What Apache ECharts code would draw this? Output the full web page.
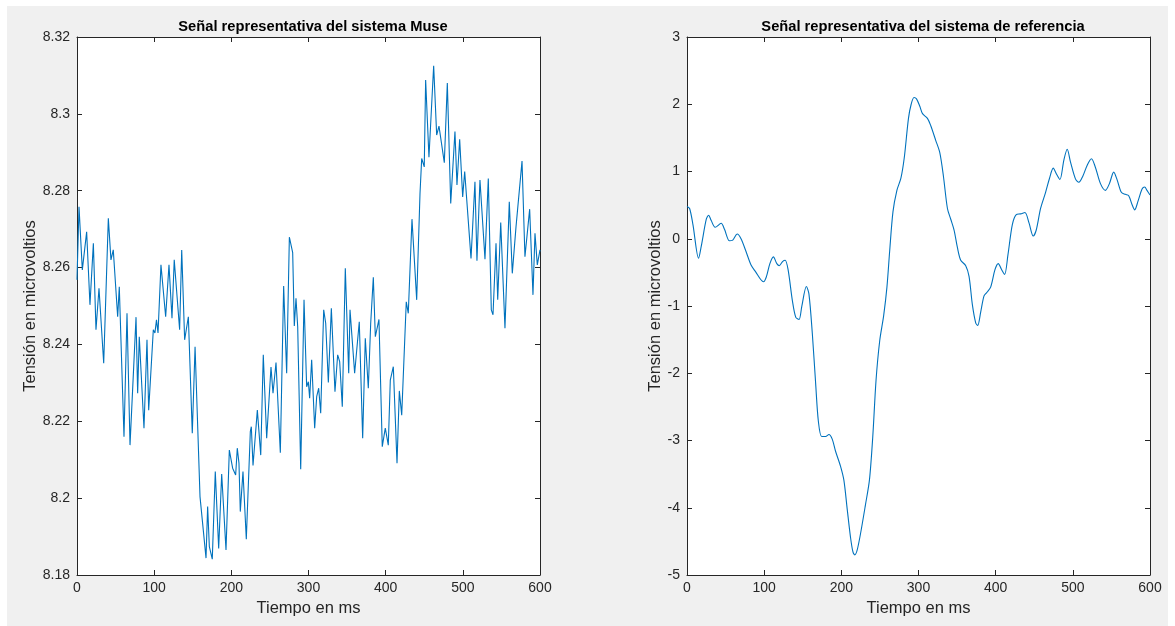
<!DOCTYPE html>
<html>
<head>
<meta charset="utf-8">
<script src="https://cdn.jsdelivr.net/npm/echarts@6/dist/echarts.min.js"></script>
<style>
  html, body { margin: 0; padding: 0; background: #fff; }
  #frame { position: absolute; left: 7px; top: 6px; width: 1161px; height: 620px; background: #f0f0f0; }
  #chart { position: absolute; left: 0; top: 0; width: 1175px; height: 626px; }
</style>
</head>
<body>
<div id="frame"></div>
<div id="chart"></div>
<script>
// Muse signal (left), vertices
var museTime = [0, 2.6, 6.9, 12.5, 16.8, 21.2, 24.6, 28.5, 34.6, 40.6, 44, 47, 52.7, 54.8, 60.9, 64.8, 68.7, 76.5, 78.6, 80.7,
  86.8, 90.7, 92.9, 98.9, 101, 103, 105, 108.8, 111, 114.9, 119.2, 123.1, 126, 133, 135.7, 139.5, 144.3, 149.4, 153, 159.4,
  161.5, 167.2, 169.3, 171.5, 175.3, 179.2, 183.6, 187.5, 193.1, 197.4, 201.7, 205.6, 207.7, 209.9, 211.6, 215.1, 219.4, 224.6, 225.9, 228.1,
  233.7, 238.1, 241.4, 245.8, 251.4, 254, 257.9, 263.5, 267.8, 271.7, 275.2, 279.5, 281.6, 283.8, 286, 289.9, 294.2, 297.6, 299.8, 301.5,
  304.1, 308, 310.6, 313.2, 315.8, 319.7, 322.3, 325.7, 329.6, 334.3, 337.8, 340.4, 343.8, 347.7, 352.1, 353.8, 359.8, 365.8, 370.2, 373.6,
  377.5, 380.6, 384, 386.6, 391.3, 395.6, 399.5, 403.4, 406, 409.9, 414.7, 417.7, 420.8, 426.7, 429.3, 434.1, 440.2, 444.5, 446.7, 450,
  451.8, 456.1, 462.2, 466.1, 469.1, 476, 479.9, 484.3, 489.8, 492.4, 495.9, 499.8, 502.4, 510.6, 515.7, 518.3, 522.2, 528.7, 533, 536.9,
  539.1, 543, 545.2, 549.1, 554.6, 560.2, 564.1, 568.9, 576.7, 580.5, 586.6, 590.9, 593.5, 596.5, 600];
var museValues = [8.2568, 8.2758, 8.2594, 8.2693, 8.2503, 8.2663, 8.2438, 8.2546, 8.2351, 8.2728, 8.262, 8.2646, 8.2472, 8.255, 8.216, 8.2481, 8.2138, 8.2471, 8.2273, 8.242,
  8.2182, 8.2412, 8.2229, 8.2438, 8.243, 8.2464, 8.243, 8.2607, 8.2604, 8.2472, 8.2607, 8.2468, 8.262, 8.2438, 8.2646, 8.2412, 8.2472, 8.2169, 8.2394, 8.2004,
  8.200, 8.1844, 8.1978, 8.1874, 8.1841, 8.2069, 8.1869, 8.2063, 8.1865, 8.2125, 8.2078, 8.206, 8.213, 8.2091, 8.1965, 8.2069, 8.1893, 8.2173, 8.2186, 8.2085,
  8.2229, 8.2112, 8.2373, 8.2156, 8.2341, 8.2273, 8.2353, 8.2118, 8.2552, 8.2325, 8.2679, 8.2639, 8.2448, 8.252, 8.2446, 8.2075, 8.2516, 8.229, 8.2303, 8.226,
  8.236, 8.2182, 8.2264, 8.2286, 8.2221, 8.249, 8.2455, 8.2301, 8.2494, 8.2277, 8.2373, 8.2355, 8.2238, 8.2598, 8.2325, 8.249, 8.2325, 8.2459, 8.2156, 8.2416,
  8.2286, 8.2455, 8.2575, 8.242, 8.2465, 8.2134, 8.2182, 8.2138, 8.2307, 8.2342, 8.2091, 8.2279, 8.2216, 8.2511, 8.2481, 8.2726, 8.2516, 8.2793, 8.2884, 8.2862,
  8.3088, 8.2887, 8.3125, 8.2945, 8.2968, 8.2873, 8.308, 8.2767, 8.2954, 8.2815, 8.2934, 8.2784, 8.285, 8.2624, 8.2823, 8.2618, 8.2828, 8.2622, 8.2832, 8.249,
  8.2477, 8.2663, 8.2516, 8.2717, 8.2442, 8.2771, 8.2585, 8.2706, 8.2877, 8.2628, 8.2752, 8.2529, 8.2689, 8.2607, 8.2646];

// reference system signal (right)
var refTime = [0, 3.4, 7.7, 15, 18.5, 25, 28, 31.4, 36.5, 44.3, 48.6, 55, 59.3, 65, 70, 76.5, 83, 89.4, 95.8, 99.3,
  103, 107.4, 112, 116.4, 119.5, 123.8, 127.2, 131, 136.7, 141, 145.2, 148.7, 154.7, 158, 162.4, 166.7, 170.2, 174.5, 179.6, 183.9,
  188.2, 192.5, 198.9, 203.3, 207.6, 211.9, 214.9, 217.4, 220.5, 224.8, 231.2, 236.4, 240.7, 245, 249.7, 254.9, 259.1, 262.6, 266.9, 272,
  277.2, 281.5, 287, 290.5, 294.2, 297.4, 301.7, 305.2, 311.6, 315.9, 322.4, 327.6, 332.3, 337.5, 341.8, 346.1, 350.4, 354.7, 361.2, 365.5,
  369.8, 374.1, 376.7, 380.6, 384.9, 388.4, 393.5, 399.1, 403.4, 407.3, 411.6, 415.9, 421.6, 426.7, 432.3, 437.9, 443.1, 448.7, 452.6, 458.2,
  464.7, 469.8, 474.6, 478.9, 483.2, 488.4, 492.7, 497, 503.4, 507.8, 512.9, 518.5, 524.1, 529.3, 535.8, 542.2, 547.4, 553, 557.3, 562.9,
  568.1, 572.4, 576.7, 580.2, 584.5, 589.7, 593.1, 596.1, 600];
var refValues = [0.48, 0.45, 0.21, -0.29, -0.11, 0.29, 0.35, 0.27, 0.17, 0.23, 0.14, -0.03, -0.02, 0.07, 0, -0.19, -0.39, -0.5, -0.61, -0.64,
  -0.56, -0.37, -0.27, -0.37, -0.40, -0.34, -0.32, -0.46, -0.93, -1.17, -1.2, -1.01, -0.71, -0.82, -1.41, -2.15, -2.71, -2.94, -2.94, -2.91,
  -2.98, -3.16, -3.38, -3.59, -4.02, -4.44, -4.65, -4.70, -4.63, -4.39, -3.96, -3.59, -2.95, -2.1, -1.52, -1.14, -0.72, -0.19, 0.4, 0.72,
  0.9, 1.2, 1.79, 2.0, 2.1, 2.08, 1.97, 1.86, 1.79, 1.68, 1.46, 1.28, 0.93, 0.45, 0.29, 0.13, -0.13, -0.32, -0.40, -0.56,
  -0.98, -1.25, -1.29, -1.09, -0.85, -0.80, -0.72, -0.46, -0.37, -0.45, -0.53, -0.24, 0.21, 0.36, 0.37, 0.39, 0.24, 0.04, 0.13, 0.45,
  0.69, 0.9, 1.05, 0.96, 0.88, 1.17, 1.33, 1.14, 0.89, 0.84, 0.93, 1.09, 1.19, 1.06, 0.82, 0.72, 0.82, 0.99, 0.88, 0.69,
  0.66, 0.64, 0.51, 0.43, 0.56, 0.74, 0.77, 0.72, 0.65];

var titles = ["Señal representativa del sistema Muse", "Señal representativa del sistema de referencia"];
var xName = "Tiempo en ms";
var yName = "Tensión en microvoltios";

var font = "'Liberation Sans', Arial, Helvetica, sans-serif";
var axisColor = "#262626";
var lineColor = "#0072bd";

function pairs(xs, ys) {
  return xs.map(function (x, i) { return [x, ys[i]]; });
}

function xAxisFor(grid, main) {
  return {
    type: "value", gridIndex: grid, min: 0, max: 600, interval: 100,
    position: main ? "bottom" : "top",
    name: main ? xName : "", nameLocation: "middle", nameGap: 25,
    nameTextStyle: { color: axisColor, fontSize: 16.5, fontFamily: font },
    axisLine: { show: true, onZero: false, lineStyle: { color: axisColor, width: 1 } },
    axisTick: { show: true, inside: true, length: 5, lineStyle: { color: axisColor } },
    axisLabel: { show: main, color: axisColor, fontSize: 14, fontFamily: font, margin: 6 },
    splitLine: { show: false }
  };
}

function yAxisFor(grid, main, min, max, step, gap) {
  return {
    type: "value", gridIndex: grid, min: min, max: max, interval: step,
    position: main ? "left" : "right",
    name: main ? yName : "", nameLocation: "middle", nameGap: gap,
    nameTextStyle: { color: axisColor, fontSize: 16.5, fontFamily: font },
    axisLine: { show: true, onZero: false, lineStyle: { color: axisColor, width: 1 } },
    axisTick: { show: true, inside: true, length: 5, lineStyle: { color: axisColor } },
    axisLabel: { show: main, color: axisColor, fontSize: 14, fontFamily: font, margin: 7 },
    splitLine: { show: false }
  };
}

var chart = echarts.init(document.getElementById("chart"));
var option = {
  backgroundColor: "transparent",
  animation: false,
  title: [
    { text: titles[0], left: 308, top: 14, textAlign: "center",
      textStyle: { fontSize: 14.7, fontWeight: "bold", color: "#000", fontFamily: font } },
    { text: titles[1], left: 918, top: 14, textAlign: "center",
      textStyle: { fontSize: 14.7, fontWeight: "bold", color: "#000", fontFamily: font } }
  ],
  grid: [
    { left: 77, top: 37, width: 463, height: 538, show: true, backgroundColor: "#fff", borderWidth: 0 },
    { left: 687, top: 37, width: 463, height: 538, show: true, backgroundColor: "#fff", borderWidth: 0 }
  ],
  xAxis: [xAxisFor(0, true), xAxisFor(0, false), xAxisFor(1, true), xAxisFor(1, false)],
  yAxis: [
    yAxisFor(0, true, 8.18, 8.32, 0.02, 36),
    yAxisFor(0, false, 8.18, 8.32, 0.02, 0),
    yAxisFor(1, true, -5, 3, 1, 22),
    yAxisFor(1, false, -5, 3, 1, 0)
  ],
  series: [
    {
      type: "line", xAxisIndex: 0, yAxisIndex: 0, data: pairs(museTime, museValues),
      showSymbol: false, lineStyle: { color: lineColor, width: 1.1 }
    },
    {
      type: "line", xAxisIndex: 2, yAxisIndex: 2, data: pairs(refTime, refValues),
      showSymbol: false, smooth: 0.3, lineStyle: { color: lineColor, width: 1.1 }
    }
  ]
};
chart.setOption(option);
</script>
</body>
</html>
